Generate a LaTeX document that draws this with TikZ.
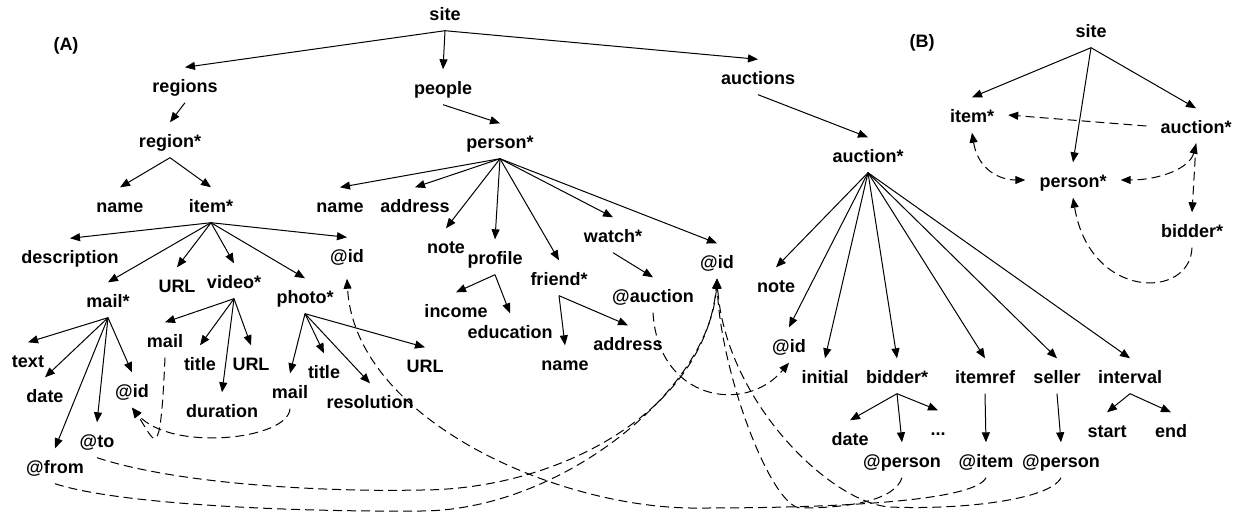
\documentclass[tikz,border=0pt]{standalone}
\usepackage{fontspec}
\setmainfont{Liberation Sans}
\usetikzlibrary{arrows.meta}
\begin{document}
\begin{tikzpicture}[x=1pt,y=-1pt,
  lbl/.style={font=\bfseries\fontsize{18}{20}\selectfont, text height=16pt, text depth=1pt,
              inner xsep=14pt, inner ysep=9pt, yshift=2pt},
  tip/.style={-{Triangle[length=10pt,width=8pt]}},
  tree/.style={line width=1pt, tip},
  ref/.style={tree, dash pattern=on 9pt off 5pt},
  both/.style={ref, {Triangle[length=10pt,width=8pt]}-{Triangle[length=10pt,width=8pt]}}]
\useasboundingbox (0,0) rectangle (1236,512);

% ---------- (A) document tree ----------
\node[lbl] (labA) at (66,45) {(A)};
\node[lbl] (site) at (445,15) {site};
\node[lbl] (regions) at (185,87) {regions};
\node[lbl] (people) at (443,89) {people};
\node[lbl] (auctions) at (758,79) {auctions};
\node[lbl] (regionS) at (170,142) {region*};
\node[lbl] (personS) at (500,143) {person*};
\node[lbl] (auctionS) at (868,157) {auction*};
% region branch
\node[lbl] (rName) at (120,207) {name};
\node[lbl] (itemS) at (211,207) {item*};
\node[lbl] (desc) at (70,258) {description};
\node[lbl] (iUrl) at (177,287) {URL};
\node[lbl] (video) at (234,283) {video*};
\node[lbl] (photo) at (305,298) {photo*};
\node[lbl] (mail) at (108,302) {mail*};
\node[lbl] (iId) at (347,257) {@id};
\node[lbl] (text) at (28,362) {text};
\node[lbl] (mDate) at (45,397) {date};
\node[lbl] (from) at (55,468) {@from};
\node[lbl] (to) at (97,442) {@to};
\node[lbl] (mId) at (132,392) {@id};
\node[lbl] (vMail) at (165,342) {mail};
\node[lbl] (vTitle) at (200,365) {title};
\node[lbl] (vUrl) at (251,365) {URL};
\node[lbl] (vDur) at (222,412) {duration};
\node[lbl] (phMail) at (290,393) {mail};
\node[lbl] (phTitle) at (324,373) {title};
\node[lbl] (phRes) at (370,403) {resolution};
\node[lbl] (phUrl) at (425,367) {URL};
% people branch
\node[lbl] (pName) at (340,207) {name};
\node[lbl] (pAddr) at (415,207) {address};
\node[lbl] (pNote) at (446,248) {note};
\node[lbl] (profile) at (495,259) {profile};
\node[lbl] (friend) at (559,280) {friend*};
\node[lbl] (watch) at (613,237) {watch*};
\node[lbl] (pId) at (717,263) {@id};
\node[lbl] (income) at (456,312) {income};
\node[lbl] (educ) at (510,333) {education};
\node[lbl] (fName) at (565,365) {name};
\node[lbl] (fAddr) at (628,345) {address};
\node[lbl] (aucRef) at (653,297) {@auction};
% auctions branch
\node[lbl] (aNote) at (776,287) {note};
\node[lbl] (aId) at (789,347) {@id};
\node[lbl] (initial) at (825,378) {initial};
\node[lbl] (bidder) at (897,378) {bidder*};
\node[lbl] (itemref) at (985,378) {itemref};
\node[lbl] (seller) at (1057,378) {seller};
\node[lbl] (interval) at (1130,378) {interval};
\node[lbl] (bDate) at (850,440) {date};
\node[lbl] (bPerson) at (902,462) {@person};
\node[lbl] (dots) at (938,430) {...};
\node[lbl] (itemAt) at (986,462) {@item};
\node[lbl] (sPerson) at (1061,462) {@person};
\node[lbl] (start) at (1107,432) {start};
\node[lbl] (stEnd) at (1171,432) {end};

% tree edges
\foreach \c in {regions,people,auctions} \draw[tree] (site.south) -- (\c.north);
\draw[tree] (regions.south) -- (regionS.north);
\draw[tree] (people.south) -- (personS.north);
\draw[tree] (auctions.south) -- (auctionS.north);
\foreach \c in {rName,itemS} \draw[tree] (regionS.south) -- (\c.north);
\foreach \c in {desc,mail,iUrl,video,photo,iId} \draw[tree] (itemS.south) -- (\c.north);
\foreach \c in {text,mDate,from,to,mId} \draw[tree] (mail.south) -- (\c.north);
\foreach \c in {vMail,vTitle,vUrl,vDur} \draw[tree] (video.south) -- (\c.north);
\foreach \c in {phMail,phTitle,phRes,phUrl} \draw[tree] (photo.south) -- (\c.north);
\foreach \c in {pName,pAddr,pNote,profile,friend,watch,pId} \draw[tree] (personS.south) -- (\c.north);
\foreach \c in {income,educ} \draw[tree] (profile.south) -- (\c.north);
\foreach \c in {fName,fAddr} \draw[tree] (friend.south) -- (\c.north);
\draw[tree] (watch.south) -- (aucRef.north);
\foreach \c in {aNote,aId,initial,bidder,itemref,seller,interval} \draw[tree] (auctionS.south) -- (\c.north);
\foreach \c in {bDate,bPerson,dots} \draw[tree] (bidder.south) -- (\c.north);
\draw[tree] (itemref.south) -- (itemAt.north);
\draw[tree] (seller.south) -- (sPerson.north);
\foreach \c in {start,stEnd} \draw[tree] (interval.south) -- (\c.north);

% id references
\draw[ref] (vMail.south) .. controls (160,470) and (155,440) .. (mId.south);
\draw[ref] (phMail.south) .. controls (288,440) and (170,452) .. (mId.south);
\draw[ref] (to.south) .. controls (180,485) and (330,492) .. (420,490)
           .. controls (560,490) and (705,410) .. (pId.south);
\draw[ref] (from.south) .. controls (120,505) and (300,512) .. (420,511)
           .. controls (560,511) and (710,390) .. (pId.south);
\draw[ref] (itemAt.south) .. controls (975,500) and (850,508) .. (700,508)
           .. controls (560,510) and (355,420) .. ([yshift=-6pt]iId.south);
\draw[ref] (bPerson.south) .. controls (895,500) and (850,508) .. (800,508)
           .. controls (770,505) and (720,370) .. (pId.south);
\draw[ref] (sPerson.south) .. controls (1050,500) and (960,510) .. (890,507)
           .. controls (830,503) and (725,400) .. (pId.south);
\draw[ref] (aucRef.south) .. controls (658,400) and (745,415) .. (aId.south);

% ---------- (B) schema graph ----------
\node[lbl] (labB) at (922,42) {(B)};
\node[lbl] (siteB) at (1091,32) {site};
\node[lbl] (itemB) at (972,117) {item*};
\node[lbl] (personB) at (1073,182) {person*};
\node[lbl] (auctionB) at (1196,128) {auction*};
\node[lbl] (bidderB) at (1192,232) {bidder*};

\foreach \c in {itemB,personB,auctionB} \draw[tree] (siteB.south) -- (\c.north);
\draw[ref] (auctionB.west) -- (itemB.east);
\draw[both] (itemB.south) .. controls (978,170) and (1000,180) .. (personB.west);
\draw[both] (auctionB.south) .. controls (1190,168) and (1160,180) .. (personB.east);
\draw[ref] (auctionB.south) -- (bidderB.north);
\draw[ref] (bidderB.south) .. controls (1190,300) and (1090,300) .. (personB.south);
\end{tikzpicture}
\end{document}
